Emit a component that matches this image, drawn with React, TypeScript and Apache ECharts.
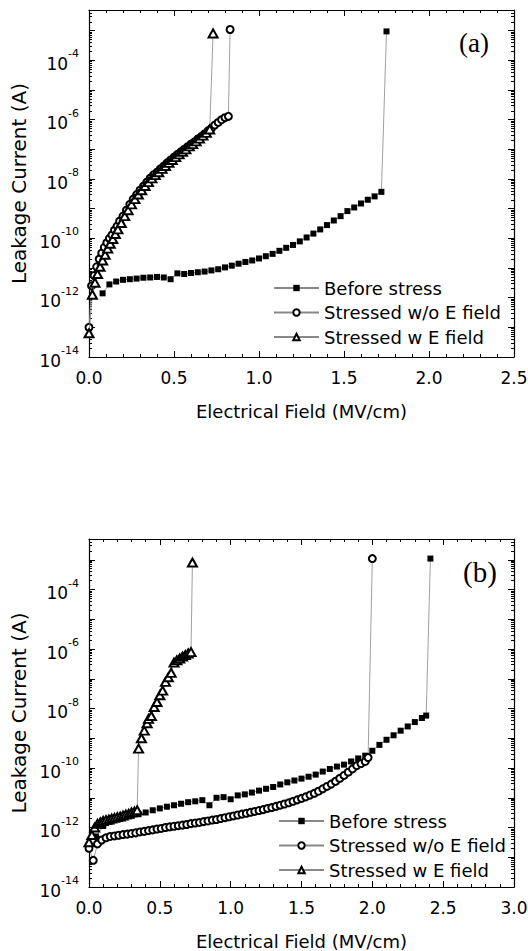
import React, { useEffect, useRef } from "react";
import * as echarts from "echarts";

// ---------- Data: panel (a) ----------
const aBeforeE = [0.08, 0.12, 0.16, 0.2, 0.24, 0.28, 0.32, 0.36, 0.4, 0.44, 0.48, 0.52, 0.56, 0.6, 0.64, 0.68, 0.72, 0.76, 0.8, 0.84, 0.88, 0.92, 0.96, 1.0, 1.04, 1.08, 1.12, 1.16, 1.2, 1.24, 1.28, 1.32, 1.36, 1.4, 1.44, 1.48, 1.52, 1.56, 1.6, 1.64, 1.68, 1.72, 1.75];
const aBeforeI = [1.4e-12, 2.8e-12, 3.5e-12, 4.0e-12, 4.2e-12, 4.4e-12, 4.7e-12, 4.8e-12, 5.0e-12, 4.8e-12, 4.2e-12, 6.6e-12, 6.3e-12, 6.8e-12, 7.2e-12, 7.6e-12, 8.3e-12, 9.1e-12, 1.05e-11, 1.2e-11, 1.4e-11, 1.6e-11, 1.8e-11, 2.1e-11, 2.5e-11, 3.0e-11, 3.8e-11, 4.8e-11, 6.0e-11, 7.9e-11, 1.07e-10, 1.45e-10, 2.0e-10, 2.8e-10, 4.0e-10, 5.6e-10, 8.3e-10, 1.1e-9, 1.5e-9, 2.0e-9, 2.6e-9, 3.7e-9, 9.5e-4];

const aWoE = [0, 0.015, 0.03, 0.045, 0.06, 0.075, 0.09, 0.105, 0.12, 0.135, 0.15, 0.165, 0.18, 0.2, 0.22, 0.24, 0.26, 0.28, 0.3, 0.32, 0.34, 0.36, 0.38, 0.4, 0.42, 0.44, 0.46, 0.48, 0.5, 0.52, 0.54, 0.56, 0.58, 0.6, 0.62, 0.64, 0.66, 0.68, 0.7, 0.72, 0.74, 0.76, 0.78, 0.8, 0.82, 0.83];
const aWoI = [1.0e-13, 2.5e-12, 5.6e-12, 1.1e-11, 2.0e-11, 3.2e-11, 5.0e-11, 7.1e-11, 1.0e-10, 1.3e-10, 1.9e-10, 2.6e-10, 3.8e-10, 5.6e-10, 8.9e-10, 1.4e-9, 2.1e-9, 3.0e-9, 4.2e-9, 5.8e-9, 7.9e-9, 1.07e-8, 1.4e-8, 1.7e-8, 2.2e-8, 2.75e-8, 3.5e-8, 4.4e-8, 5.5e-8, 6.8e-8, 8.3e-8, 1.0e-7, 1.23e-7, 1.5e-7, 1.8e-7, 2.24e-7, 2.7e-7, 3.3e-7, 4.2e-7, 5.2e-7, 6.6e-7, 8.1e-7, 1.0e-6, 1.17e-6, 1.3e-6, 1.1e-3];

const aWE = [0, 0.02, 0.035, 0.05, 0.065, 0.08, 0.095, 0.11, 0.125, 0.14, 0.155, 0.17, 0.19, 0.21, 0.23, 0.25, 0.27, 0.29, 0.31, 0.33, 0.35, 0.37, 0.39, 0.41, 0.43, 0.45, 0.47, 0.49, 0.51, 0.53, 0.55, 0.57, 0.59, 0.61, 0.63, 0.65, 0.67, 0.69, 0.71, 0.73];
const aWI = [6.3e-14, 1.26e-12, 3.2e-12, 6.3e-12, 1.1e-11, 1.8e-11, 2.8e-11, 4.5e-11, 6.6e-11, 9.5e-11, 1.4e-10, 2.0e-10, 3.3e-10, 5.6e-10, 8.9e-10, 1.4e-9, 2.1e-9, 3.0e-9, 4.2e-9, 5.8e-9, 7.9e-9, 1.05e-8, 1.35e-8, 1.7e-8, 2.2e-8, 2.75e-8, 3.5e-8, 4.4e-8, 5.5e-8, 6.8e-8, 8.3e-8, 1.0e-7, 1.26e-7, 1.5e-7, 1.86e-7, 2.3e-7, 2.9e-7, 3.6e-7, 4.7e-7, 8.1e-4];

// ---------- Data: panel (b) ----------
const bBeforeE = [0.05, 0.1, 0.15, 0.2, 0.25, 0.3, 0.35, 0.4, 0.45, 0.5, 0.55, 0.6, 0.65, 0.7, 0.75, 0.8, 0.85, 0.9, 0.95, 1.0, 1.05, 1.1, 1.15, 1.2, 1.25, 1.3, 1.35, 1.4, 1.45, 1.5, 1.55, 1.6, 1.65, 1.7, 1.75, 1.8, 1.85, 1.9, 1.95, 2.0, 2.05, 2.1, 2.15, 2.2, 2.25, 2.3, 2.35, 2.38, 2.41];
const bBeforeI = [5.0e-13, 1.12e-12, 1.6e-12, 2.0e-12, 2.24e-12, 2.5e-12, 2.8e-12, 3.2e-12, 3.8e-12, 4.4e-12, 5.0e-12, 5.6e-12, 6.3e-12, 7.1e-12, 7.6e-12, 8.3e-12, 5.6e-12, 1.0e-11, 1.05e-11, 8.9e-12, 1.2e-11, 1.3e-11, 1.5e-11, 1.74e-11, 2.0e-11, 2.3e-11, 2.8e-11, 3.3e-11, 3.8e-11, 4.4e-11, 5.1e-11, 6.0e-11, 7.6e-11, 9.3e-11, 1.12e-10, 1.3e-10, 1.66e-10, 2.1e-10, 2.6e-10, 3.8e-10, 6.0e-10, 8.9e-10, 1.26e-9, 1.8e-9, 2.5e-9, 3.5e-9, 4.8e-9, 5.8e-9, 1.1e-3];

const bWoE = [0, 0.03, 0.06, 0.09, 0.12, 0.15, 0.18, 0.21, 0.24, 0.27, 0.3, 0.33, 0.36, 0.39, 0.42, 0.45, 0.48, 0.51, 0.54, 0.57, 0.6, 0.63, 0.66, 0.69, 0.72, 0.75, 0.78, 0.81, 0.84, 0.87, 0.9, 0.93, 0.96, 0.99, 1.02, 1.05, 1.08, 1.11, 1.14, 1.17, 1.2, 1.23, 1.26, 1.29, 1.32, 1.35, 1.38, 1.41, 1.44, 1.47, 1.5, 1.53, 1.56, 1.59, 1.62, 1.65, 1.68, 1.71, 1.74, 1.77, 1.8, 1.83, 1.86, 1.89, 1.92, 1.95, 1.97, 2.0];
const bWoI = [2.0e-13, 7.9e-14, 2.8e-13, 3.8e-13, 4.5e-13, 5.0e-13, 5.2e-13, 5.5e-13, 5.8e-13, 6.0e-13, 6.3e-13, 6.6e-13, 7.1e-13, 7.4e-13, 7.9e-13, 8.3e-13, 8.9e-13, 9.3e-13, 1.0e-12, 1.05e-12, 1.1e-12, 1.15e-12, 1.2e-12, 1.26e-12, 1.35e-12, 1.41e-12, 1.48e-12, 1.58e-12, 1.66e-12, 1.78e-12, 1.86e-12, 2.0e-12, 2.14e-12, 2.3e-12, 2.45e-12, 2.63e-12, 2.82e-12, 3.0e-12, 3.24e-12, 3.47e-12, 3.72e-12, 4.0e-12, 4.37e-12, 4.68e-12, 5.13e-12, 5.62e-12, 6.17e-12, 6.76e-12, 7.59e-12, 8.51e-12, 9.55e-12, 1.07e-11, 1.23e-11, 1.41e-11, 1.66e-11, 2.0e-11, 2.4e-11, 2.88e-11, 3.55e-11, 4.47e-11, 5.62e-11, 7.24e-11, 9.33e-11, 1.2e-10, 1.41e-10, 1.66e-10, 2.24e-10, 1.1e-3];

const bWE = [0, 0.02, 0.04, 0.06, 0.08, 0.1, 0.12, 0.14, 0.16, 0.18, 0.2, 0.22, 0.24, 0.26, 0.28, 0.3, 0.32, 0.34, 0.35, 0.37, 0.39, 0.41, 0.42, 0.44, 0.46, 0.48, 0.5, 0.52, 0.54, 0.56, 0.58, 0.6, 0.62, 0.64, 0.66, 0.68, 0.7, 0.72, 0.73];
const bWI = [3.2e-13, 5.6e-13, 1.0e-12, 1.32e-12, 1.5e-12, 1.66e-12, 1.78e-12, 1.86e-12, 2.0e-12, 2.1e-12, 2.24e-12, 2.34e-12, 2.5e-12, 2.7e-12, 2.9e-12, 3.2e-12, 3.4e-12, 3.8e-12, 4.5e-10, 1.0e-9, 1.8e-9, 3.2e-9, 4.5e-9, 5.6e-9, 1.12e-8, 1.66e-8, 2.8e-8, 4.0e-8, 7.9e-8, 1.12e-7, 1.58e-7, 3.5e-7, 4.2e-7, 4.8e-7, 5.6e-7, 6.3e-7, 7.1e-7, 7.9e-7, 8.1e-4];

// ---------- Labels ----------
const seriesNames = ["Before stress", "Stressed w/o E field", "Stressed w E field"];
const xTitle = "Electrical Field (MV/cm)";
const yTitle = "Leakage Current (A)";
const panelLabels = ["(a)", "(b)"];
const xMaxes = [2.5, 3.0];
const yMin = 1e-14;
const yMax = 5e-3;

const FONT = '"DejaVu Sans", sans-serif';

function yLabel(v: number) {
  const e = Math.log10(v);
  const r = Math.round(e);
  if (Math.abs(e - r) > 1e-6 || r % 2 !== 0) return "";
  return `{b|10}{s|${r}}`;
}

function xAxisCfg(grid: number, max: number, bottom: boolean) {
  return {
    gridIndex: grid,
    type: "value",
    position: bottom ? "bottom" : "top",
    min: 0,
    max,
    interval: 0.5,
    axisLine: { show: true, onZero: false, lineStyle: { color: "#000", width: 1.2 } },
    axisTick: { show: true, inside: true, length: 6, lineStyle: { color: "#000", width: 1 } },
    minorTick: { show: true, splitNumber: 5, length: 3, lineStyle: { color: "#000", width: 1 } },
    splitLine: { show: false },
    axisLabel: bottom
      ? { show: true, margin: 12, fontSize: 17, fontFamily: FONT, color: "#000", formatter: (v: number) => v.toFixed(1) }
      : { show: false },
    name: bottom ? xTitle : undefined,
    nameLocation: "middle",
    nameGap: 45,
    nameTextStyle: { fontSize: 18, fontFamily: FONT, color: "#000" },
  };
}

function yAxisCfg(grid: number, left: boolean) {
  return {
    gridIndex: grid,
    type: "log",
    logBase: 10,
    position: left ? "left" : "right",
    min: yMin,
    max: yMax,
    interval: 1,
    axisLine: { show: true, onZero: false, lineStyle: { color: "#000", width: 1.2 } },
    axisTick: { show: true, inside: true, length: 6, lineStyle: { color: "#000", width: 1 } },
    minorTick: { show: true, splitNumber: 9, length: 3, lineStyle: { color: "#000", width: 1 } },
    splitLine: { show: false },
    axisLabel: left
      ? {
          show: true,
          margin: 10,
          formatter: yLabel,
          rich: {
            b: { fontSize: 17, fontFamily: FONT, color: "#000", lineHeight: 24, verticalAlign: "bottom" },
            s: { fontSize: 11, fontFamily: FONT, color: "#000", lineHeight: 9, verticalAlign: "top" },
          },
        }
      : { show: false },
    name: left ? yTitle : undefined,
    nameLocation: "middle",
    nameGap: 59,
    nameTextStyle: { fontSize: 20, fontFamily: FONT, color: "#000" },
  };
}

const markerStyles = [
  { symbol: "rect", symbolSize: 6, itemStyle: { color: "#000" } },
  { symbol: "emptyCircle", symbolSize: 7, itemStyle: { color: "#000", borderColor: "#000", borderWidth: 0.7 } },
  { symbol: "emptyTriangle", symbolSize: [9, 8], itemStyle: { color: "#000", borderColor: "#000", borderWidth: 0.7 } },
];

function mkSeries(idx: number, xs: number[], ys: number[], grid: number) {
  const m = markerStyles[idx];
  return {
    type: "line",
    name: seriesNames[idx],
    xAxisIndex: grid * 2,
    yAxisIndex: grid * 2,
    data: xs.map((x, i) => [x, ys[i]]),
    symbol: m.symbol,
    symbolSize: m.symbolSize,
    showAllSymbol: true,
    itemStyle: m.itemStyle,
    lineStyle: { color: "#888", width: 0.8 },
    emphasis: { disabled: true },
    z: 2 + idx,
  };
}

function legendCfg(left: number, top: number) {
  return {
    orient: "vertical",
    left,
    top,
    padding: 0,
    itemWidth: 45,
    itemHeight: 8,
    itemGap: 4.5,
    selectedMode: false,
    data: seriesNames,
    textStyle: { fontSize: 18, fontFamily: FONT, color: "#000", lineHeight: 20 },
  };
}

export default function App() {
  const ref = useRef<HTMLDivElement>(null);
  useEffect(() => {
    if (!ref.current) return;
    const chart = echarts.init(ref.current, undefined, { renderer: "svg" });
    const option: any = {
      animation: false,
      backgroundColor: "#fff",
      textStyle: { fontFamily: FONT },
      grid: [
        { left: 89, top: 10, width: 425, height: 347, containLabel: false, outerBoundsMode: "none" },
        { left: 89, top: 539, width: 425, height: 348, containLabel: false, outerBoundsMode: "none" },
      ],
      xAxis: [
        xAxisCfg(0, xMaxes[0], true),
        xAxisCfg(0, xMaxes[0], false),
        xAxisCfg(1, xMaxes[1], true),
        xAxisCfg(1, xMaxes[1], false),
      ],
      yAxis: [yAxisCfg(0, true), yAxisCfg(0, false), yAxisCfg(1, true), yAxisCfg(1, false)],
      legend: [legendCfg(273, 278), legendCfg(278, 811)],
      series: [
        mkSeries(0, aBeforeE, aBeforeI, 0),
        mkSeries(1, aWoE, aWoI, 0),
        mkSeries(2, aWE, aWI, 0),
        mkSeries(0, bBeforeE, bBeforeI, 1),
        mkSeries(1, bWoE, bWoI, 1),
        mkSeries(2, bWE, bWI, 1),
      ],
      graphic: [
        { type: "text", x: 459, y: 43, style: { text: panelLabels[0], font: '27px "Liberation Serif"', fill: "#000", verticalAlign: "middle" } },
        { type: "text", x: 463, y: 572, style: { text: panelLabels[1], font: '29px "Liberation Serif"', fill: "#000", verticalAlign: "middle" } },
      ],
    };
    chart.setOption(option);
    return () => chart.dispose();
  }, []);
  return <div ref={ref} style={{ position: "absolute", left: 0, top: 0, width: 528, height: 951 }} />;
}
